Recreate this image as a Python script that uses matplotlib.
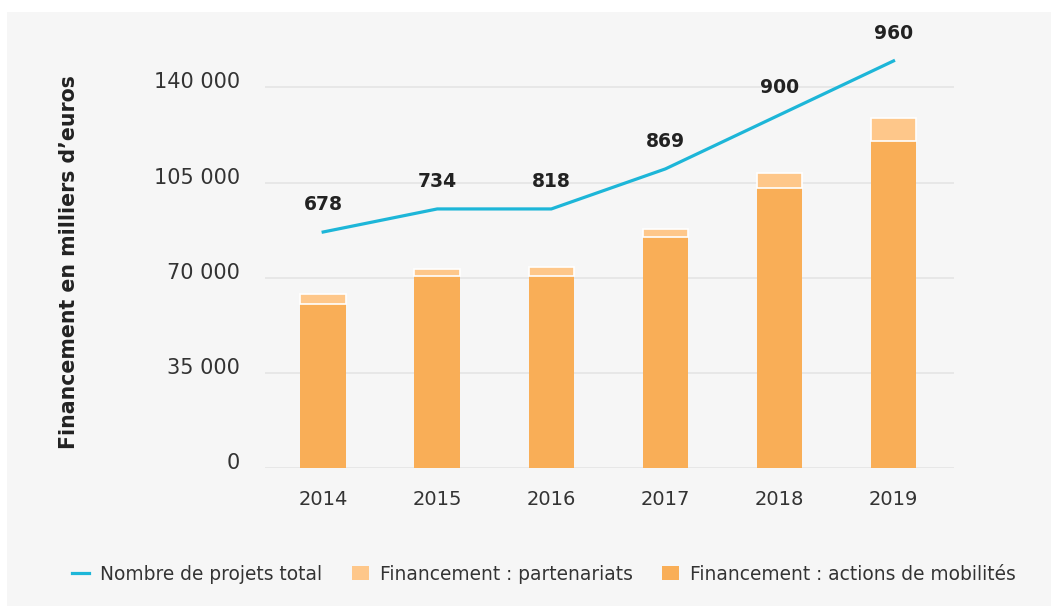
import matplotlib.pyplot as plt
from matplotlib.patches import Rectangle, Patch
from matplotlib.lines import Line2D
from matplotlib.transforms import ScaledTranslation

# Data
years = ["2014", "2015", "2016", "2017", "2018", "2019"]
mobilites = [60300, 70600, 70500, 84900, 102900, 120200]
partenariats = [3700, 2500, 3400, 2900, 5500, 8400]
projets = [678, 734, 818, 869, 900, 960]                 # labels shown
projets_courbe = [678, 716, 716, 782, 871, 960]          # line as drawn in the picture
yticks = [0, 35000, 70000, 105000, 140000]

col_mob = "#f9ae57"
col_part = "#fec78a"
col_line = "#1db6d8"
bg = "#f6f6f6"

fig = plt.figure(figsize=(10.51, 6.06), dpi=100)
fig.patch.set_facecolor("white")
fig.patches.append(Rectangle((7 / 1051, 0), 1 - 7 / 1051, 1 - 12 / 606,
                             transform=fig.transFigure, facecolor=bg,
                             edgecolor="none", zorder=-10))

ax = fig.add_axes([265 / 1051, 1 - 468 / 606, 689 / 1051, 435 / 606])
ax.patch.set_visible(False)

x = list(range(len(years)))
ax.bar(x, mobilites, width=0.4, color=col_mob, zorder=2)
ax.bar(x, partenariats, width=0.4, bottom=mobilites, color=col_part,
       edgecolor="white", linewidth=1.2, zorder=2)

ax.set_xlim(-0.51, 5.53)
ax.set_ylim(0, 160000)
ax.set_yticks(yticks)
ax.set_yticklabels([f"{v:,}".replace(",", " ") for v in yticks])
ax.grid(axis="y", color="#e4e4e4", linewidth=1.2, zorder=0)
for s in ax.spines.values():
    s.set_visible(False)
ax.tick_params(axis="both", length=0)
ax.tick_params(axis="y", labelsize=15, labelcolor="#333333", pad=18)
ax.tick_params(axis="x", labelsize=14, labelcolor="#333333", pad=16)
ax.set_xticks(x)
ax.set_xticklabels(years)
off = ScaledTranslation(0, 7 / 100, fig.dpi_scale_trans)
for lab in ax.get_yticklabels():
    lab.set_transform(lab.get_transform() + off)

fig.text(69 / 1051, 1 - 262 / 606, "Financement en milliers d\u2019euros",
         rotation=90, ha="center", va="center", fontsize=14.8,
         color="#222222", fontweight="semibold")

ax2 = ax.twinx()
ax2.set_ylim(289, 1006)
ax2.axis("off")
ax2.plot(x, projets_courbe, color=col_line, linewidth=2.3, clip_on=False)
for xi, yc, lab in zip(x, projets_courbe, projets):
    ax2.annotate(str(lab), (xi, yc), xytext=(0, 20), textcoords="offset points",
                 ha="center", va="center", fontsize=13.5, fontweight="bold",
                 color="#222222")

handles = [
    Line2D([0], [0], color=col_line, linewidth=2.3),
    Patch(facecolor=col_part, edgecolor="none"),
    Patch(facecolor=col_mob, edgecolor="none"),
]
labels = ["Nombre de projets total", "Financement : partenariats",
          "Financement : actions de mobilités"]
fig.legend(handles, labels, loc="center", bbox_to_anchor=(544 / 1051, 1 - 574 / 606),
           ncol=3, frameon=False, fontsize=13.4, handlelength=0.9, handleheight=0.8,
           columnspacing=1.6, handletextpad=0.6, labelcolor="#333333")

fig.savefig("out.png", dpi=100)
